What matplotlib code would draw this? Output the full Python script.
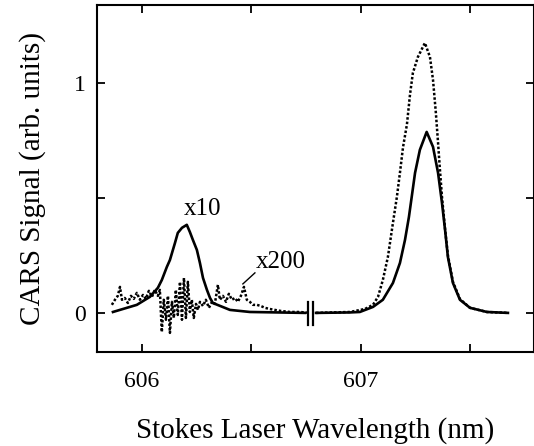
import numpy as np
import matplotlib
matplotlib.use("Agg")
import matplotlib.pyplot as plt
from matplotlib.ticker import MultipleLocator

plt.rcParams['font.family'] = ['Liberation Serif', 'DejaVu Serif']

# x10 scaled trace (solid), left of the axis break
solid_left_x = [605.868, 605.977, 606.037, 606.073, 606.091, 606.114, 606.128, 606.151,
                606.164, 606.183, 606.205, 606.219, 606.233, 606.251, 606.265, 606.279,
                606.297, 606.311, 606.324, 606.402, 606.493, 606.744]
solid_left_y = [0.004, 0.035, 0.070, 0.109, 0.143, 0.200, 0.230, 0.304,
                0.348, 0.370, 0.383, 0.352, 0.317, 0.274, 0.217, 0.152,
                0.100, 0.065, 0.043, 0.013, 0.004, 0.0]

# solid trace right of the break
solid_right_x = [606.795, 606.950, 606.995, 607.055, 607.100, 607.146, 607.178, 607.201,
                 607.219, 607.232, 607.247, 607.269, 607.300, 607.329, 607.352, 607.370,
                 607.384, 607.397, 607.420, 607.452, 607.498, 607.575, 607.671]
solid_right_y = [0.0, 0.002, 0.004, 0.026, 0.057, 0.130, 0.217, 0.317,
                 0.417, 0.506, 0.609, 0.709, 0.787, 0.722, 0.609, 0.478,
                 0.361, 0.243, 0.130, 0.057, 0.022, 0.004, 0.0]

# x200 scaled trace (dotted), noisy, left of the break
dot_left_x = [605.863, 605.877, 605.890, 605.900, 605.909, 605.922, 605.936, 605.950,
              605.963, 605.977, 605.991, 606.005, 606.018, 606.032, 606.046, 606.059,
              606.073, 606.082, 606.091, 606.100, 606.110, 606.119, 606.128, 606.137,
              606.146, 606.155, 606.164, 606.174, 606.183, 606.192, 606.201, 606.210,
              606.219, 606.228, 606.237, 606.247, 606.256, 606.265, 606.279, 606.292,
              606.306, 606.320, 606.333, 606.347, 606.356, 606.370, 606.384, 606.397,
              606.411, 606.425, 606.438, 606.452, 606.466, 606.479, 606.493, 606.507,
              606.525, 606.543, 606.562, 606.584, 606.607, 606.630, 606.676, 606.721,
              606.767]
dot_left_y = [0.035, 0.057, 0.074, 0.113, 0.057, 0.065, 0.043, 0.074,
              0.061, 0.087, 0.057, 0.078, 0.061, 0.096, 0.070, 0.100,
              0.074, 0.100, -0.083, 0.057, -0.030, 0.074, -0.087, 0.048,
              -0.022, 0.100, -0.009, 0.135, -0.030, 0.152, -0.022, 0.135,
              0.004, 0.057, -0.022, 0.039, 0.013, 0.048, 0.030, 0.057,
              0.022, 0.048, 0.039, 0.122, 0.057, 0.074, 0.048, 0.083,
              0.057, 0.065, 0.048, 0.074, 0.113, 0.057, 0.048, 0.035,
              0.035, 0.030, 0.022, 0.017, 0.013, 0.009, 0.004, 0.004,
              0.0]

# dotted trace right of the break
dot_right_x = [606.795, 606.950, 607.018, 607.055, 607.078, 607.100, 607.123, 607.146,
               607.164, 607.178, 607.192, 607.210, 607.224, 607.237, 607.260, 607.292,
               607.315, 607.329, 607.342, 607.352, 607.360, 607.370, 607.384, 607.397,
               607.420, 607.452, 607.498, 607.575, 607.671]
dot_right_y = [0.0, 0.004, 0.017, 0.035, 0.070, 0.143, 0.243, 0.391,
               0.504, 0.609, 0.720, 0.820, 0.950, 1.043, 1.113, 1.174,
               1.113, 1.013, 0.870, 0.740, 0.630, 0.504, 0.365, 0.250,
               0.135, 0.060, 0.022, 0.004, 0.0]

break_at = [606.758, 606.781]

fig = plt.figure(figsize=(5.34, 4.46), dpi=100)
ax = fig.add_axes([0.1816, 0.2108, 0.8184, 0.778])

dots = (0, (1, 0.8))
ax.plot(solid_left_x, solid_left_y, color='black', lw=1.9)
ax.plot(solid_right_x, solid_right_y, color='black', lw=1.9)
ax.plot(dot_left_x, dot_left_y, color='black', lw=1.8, ls=dots)
ax.plot(dot_right_x, dot_right_y, color='black', lw=1.8, ls=dots)

# axis break marks
for b in break_at:
    ax.plot([b, b], [-0.052, 0.048], color='black', lw=1.6)

ax.text(606.279, 0.452, 'x10', fontsize=18, ha='center', va='center')
ax.text(606.635, 0.222, 'x200', fontsize=18, ha='center', va='center')
ax.plot([606.461, 606.516], [0.126, 0.174], color='black', lw=1.0)

ax.set_xlim(605.795, 607.79)
ax.set_ylim(-0.17, 1.339)
ax.xaxis.set_major_locator(MultipleLocator(1))
ax.xaxis.set_minor_locator(MultipleLocator(0.5))
ax.yaxis.set_major_locator(MultipleLocator(1))
ax.yaxis.set_minor_locator(MultipleLocator(0.5))
ax.tick_params(which='both', direction='in', top=True, right=True,
               length=6, width=1.3, labelsize=17)
ax.tick_params(axis='x', pad=14)
ax.tick_params(axis='y', pad=8)
for s in ax.spines.values():
    s.set_linewidth(1.5)

ax.set_xlabel('Stokes Laser Wavelength (nm)', fontsize=21, labelpad=18)
ax.set_ylabel('CARS Signal (arb. units)', fontsize=21, labelpad=20)

fig.savefig('out.png', dpi=100)
